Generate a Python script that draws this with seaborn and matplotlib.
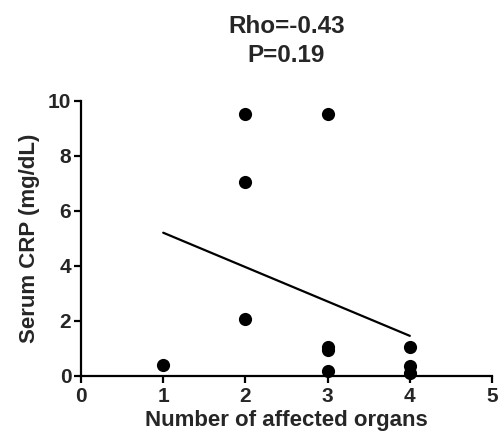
import numpy as np
import pandas as pd
import seaborn as sns
import matplotlib
matplotlib.use('Agg')
import matplotlib.pyplot as plt

# 数据：受累器官数量 vs 血清CRP
organs = [1, 2, 2, 2, 3, 3, 3, 3, 4, 4, 4]
crp = [0.4, 9.5, 7.05, 2.05, 9.5, 1.05, 0.95, 0.18, 1.05, 0.35, 0.1]
title_text = 'Rho=-0.43\nP=0.19'
x_label = 'Number of affected organs'
y_label = 'Serum CRP (mg/dL)'
x_ticks = [0, 1, 2, 3, 4, 5]
y_ticks = [0, 2, 4, 6, 8, 10]

sns.set_style('ticks')
plt.rcParams['font.family'] = ['Liberation Sans', 'DejaVu Sans']
plt.rcParams['font.weight'] = 'bold'

df = pd.DataFrame({'organs': organs, 'crp': crp})

fig = plt.figure(figsize=(5.01, 4.43), dpi=100)
ax = fig.add_axes([0.1617, 0.152, 0.8204, 0.6207])

sns.regplot(data=df, x='organs', y='crp', ci=None, ax=ax,
            scatter_kws={'s': 90, 'color': 'black', 'alpha': 1, 'linewidths': 0},
            line_kws={'color': 'black', 'linewidth': 1.6})

ax.set_xlim(0, 5)
ax.set_ylim(0, 10)
ax.set_xticks(x_ticks)
ax.set_yticks(y_ticks)
ax.tick_params(labelsize=15, width=1.6, length=5, pad=2, color='black')
ax.tick_params(axis='x', pad=3)
for lab in ax.get_xticklabels() + ax.get_yticklabels():
    lab.set_fontweight('bold')
ax.set_xlabel(x_label, fontsize=16, fontweight='bold', labelpad=3)
ax.set_ylabel(y_label, fontsize=16, fontweight='bold', labelpad=6)
ax.set_title(title_text, fontsize=17.5, fontweight='bold', pad=28, linespacing=1.3)

sns.despine(ax=ax)
for side in ['left', 'bottom']:
    ax.spines[side].set_linewidth(1.6)
    ax.spines[side].set_color('black')
    ax.spines[side].set_clip_on(False)
for coll in ax.collections:
    coll.set_clip_on(False)

plt.savefig('out.png', dpi=100)
